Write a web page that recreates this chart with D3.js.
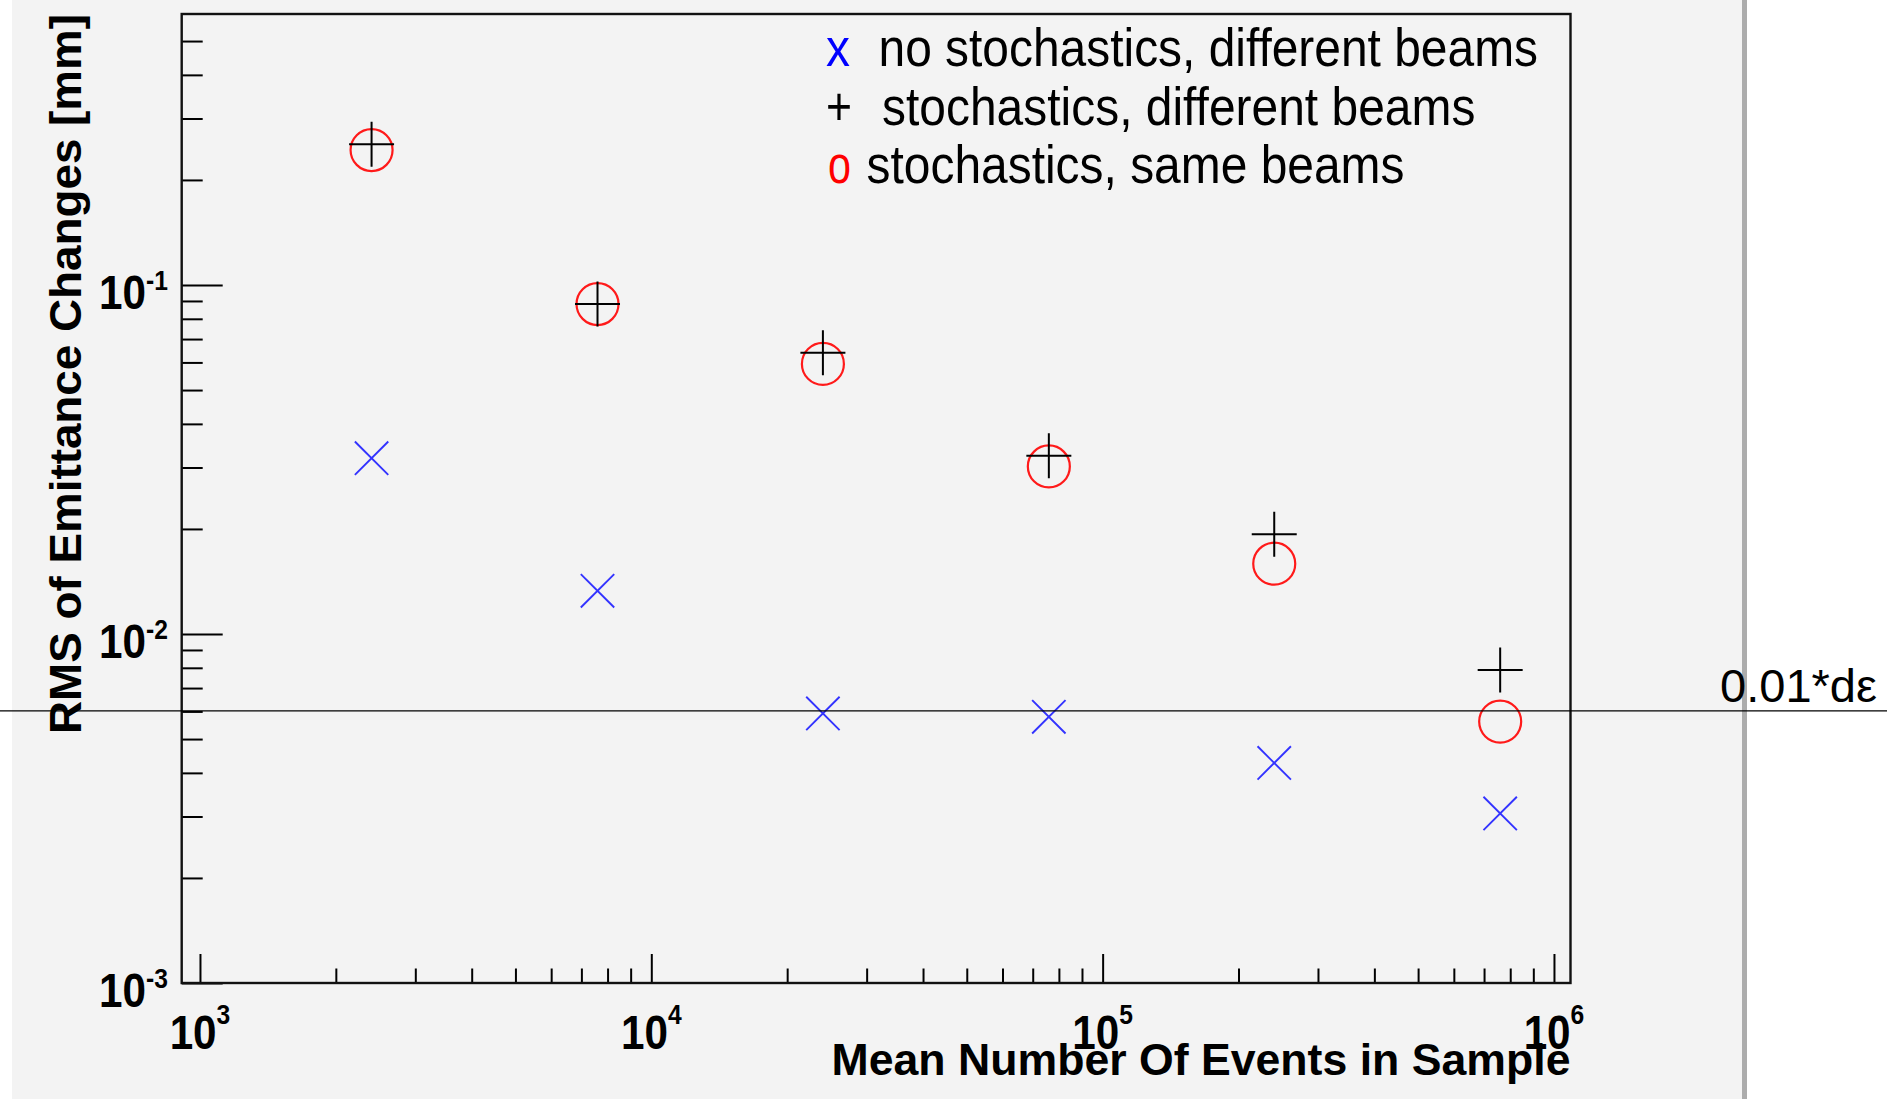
<!DOCTYPE html>
<html>
<head>
<meta charset="utf-8">
<script src="https://cdn.jsdelivr.net/npm/d3@7"></script>
<style>
  body { margin: 0; background: #fff; }
  svg { display: block; font-family: "Liberation Sans", Arial, Helvetica, sans-serif; }
</style>
</head>
<body>
<div id="chart"></div>
<script>
// data
const eventsInSample = [2400, 7600, 24000, 76000, 240000, 760000];
const noStochDiffBeams = [0.0319, 0.0133, 0.00592, 0.00579, 0.00427, 0.00306]; // blue x
const stochDiffBeams = [0.253, 0.0882, 0.064, 0.0324, 0.0193, 0.00788];      // black +
const stochSameBeams = [0.2436, 0.0882, 0.0594, 0.0302, 0.0159, 0.00561];    // red o
const refLevel = 0.00602;
const refLabel = "0.01*dε";
const xTickExps = [3, 4, 5, 6];
const yTickExps = [-3, -2, -1];
const legendSymbols = ["x", "+", "o"];
const legendLabels = ["no stochastics, different beams", "stochastics, different beams", "stochastics, same beams"];
const xTitle = "Mean Number Of Events in Sample";
const yTitle = "RMS of Emittance Changes [mm]";

const W = 1887, H = 1099;
const frame = { left: 181.7, right: 1570.5, top: 14, bottom: 983 };

const svg = d3.select("#chart").append("svg")
  .attr("width", W).attr("height", H);

// canvas
svg.append("rect").attr("x", 12).attr("y", 0).attr("width", 1730).attr("height", H).attr("fill", "#f3f3f3");
svg.append("rect").attr("x", 1742).attr("y", 0).attr("width", 5).attr("height", H).attr("fill", "#acacac");

const x = d3.scaleLog().domain([911, 1.088e6]).range([frame.left, frame.right]);
const y = d3.scaleLog().domain([1e-3, 0.5977]).range([frame.bottom, frame.top]);

// minor ticks 2..9 per decade inside domain
const minors = (scale, lo, hi) => {
  const out = [];
  for (let e = lo; e <= hi; e++) for (let m = 2; m <= 9; m++) {
    const v = m * Math.pow(10, e);
    const [d0, d1] = scale.domain();
    if (v > d0 && v < d1) out.push(v);
  }
  return out;
};

const xMajor = xTickExps.map(e => Math.pow(10, e));
const yMajor = yTickExps.map(e => Math.pow(10, e));

const gx = svg.append("g").attr("transform", `translate(0,${frame.bottom})`);
gx.append("g").call(d3.axisBottom(x).tickValues(xMajor).tickSize(-29).tickSizeOuter(0).tickFormat(""));
gx.append("g").call(d3.axisBottom(x).tickValues(minors(x, 2, 5)).tickSize(-14.5).tickSizeOuter(0).tickFormat(""));

const gy = svg.append("g").attr("transform", `translate(${frame.left},0)`);
gy.append("g").call(d3.axisLeft(y).tickValues(yMajor).tickSize(-41).tickSizeOuter(0).tickFormat(""));
gy.append("g").call(d3.axisLeft(y).tickValues(minors(y, -3, -1)).tickSize(-21).tickSizeOuter(0).tickFormat(""));

svg.selectAll(".domain").remove();
svg.selectAll(".tick line").attr("stroke", "#000").attr("stroke-width", 2);

// frame
svg.append("rect")
  .attr("x", frame.left).attr("y", frame.top)
  .attr("width", frame.right - frame.left).attr("height", frame.bottom - frame.top)
  .attr("fill", "none").attr("stroke", "#111").attr("stroke-width", 2.4);

// tick labels (10^n)
const xl = svg.append("g").selectAll("g").data(xTickExps).join("g")
  .attr("transform", d => `translate(${x(Math.pow(10, d))},1049) scale(0.88,1)`)
  .append("text").attr("text-anchor", "middle").attr("font-weight", "bold").attr("font-size", 48);
xl.append("tspan").text("10");
xl.append("tspan").attr("font-size", 28).attr("dy", -25).text(d => d);

const yl = svg.append("g").selectAll("g").data(yTickExps).join("g")
  .attr("transform", d => `translate(168,${y(Math.pow(10, d)) + 24}) scale(0.88,1)`)
  .append("text").attr("text-anchor", "end").attr("font-weight", "bold").attr("font-size", 48);
yl.append("tspan").text("10");
yl.append("tspan").attr("font-size", 28).attr("dy", -19).text(d => "-" + (-d));

// axis titles
svg.append("text")
  .attr("x", frame.right).attr("y", 1075).attr("text-anchor", "end")
  .attr("font-weight", "bold").attr("font-size", 45)
  .attr("textLength", 739).attr("lengthAdjust", "spacingAndGlyphs")
  .text(xTitle);

svg.append("text")
  .attr("transform", `translate(81,${frame.top}) rotate(-90)`)
  .attr("text-anchor", "end")
  .attr("font-weight", "bold").attr("font-size", 45)
  .attr("textLength", 720).attr("lengthAdjust", "spacingAndGlyphs")
  .text(yTitle);

// markers
const pts = (vals) => eventsInSample.map((e, i) => ({ x: x(e), y: y(vals[i]) }));

svg.append("g").selectAll("path").data(pts(noStochDiffBeams)).join("path")
  .attr("transform", d => `translate(${d.x},${d.y})`)
  .attr("d", "M-16.7,-16.7L16.7,16.7M-16.7,16.7L16.7,-16.7")
  .attr("stroke", "#3333ff").attr("stroke-width", 1.9).attr("fill", "none");

svg.append("g").selectAll("circle").data(pts(stochSameBeams)).join("circle")
  .attr("cx", d => d.x).attr("cy", d => d.y).attr("r", 21)
  .attr("stroke", "#ff1a1a").attr("stroke-width", 2.2).attr("fill", "none");

svg.append("g").selectAll("path").data(pts(stochDiffBeams)).join("path")
  .attr("transform", d => `translate(${d.x},${d.y})`)
  .attr("d", "M-22.5,0H22.5M0,-22.5V22.5")
  .attr("stroke", "#000").attr("stroke-width", 2).attr("fill", "none");

// reference line across the whole picture
svg.append("line")
  .attr("x1", 0).attr("x2", W).attr("y1", y(refLevel)).attr("y2", y(refLevel))
  .attr("stroke", "#000").attr("stroke-width", 1.4);

svg.append("text")
  .attr("x", 1720).attr("y", 702).attr("font-size", 47)
  .attr("textLength", 157).attr("lengthAdjust", "spacingAndGlyphs")
  .text(refLabel);

// legend
const legendColors = ["#0000ff", "#000", "#ff0000"];
const legendBase = [66, 125, 183];
const symX = [826, 826, 828], symW = [24, 26, 23];
const labX = [878.5, 882, 866.5], labW = [659.5, 593.4, 538];
const lg = svg.append("g").attr("font-size", 53);
legendSymbols.forEach((s, i) => {
  lg.append("text").attr("x", symX[i]).attr("y", legendBase[i])
    .attr("fill", legendColors[i])
    .attr("textLength", symW[i]).attr("lengthAdjust", "spacingAndGlyphs")
    .text(s);
  lg.append("text").attr("x", labX[i]).attr("y", legendBase[i])
    .attr("textLength", labW[i]).attr("lengthAdjust", "spacingAndGlyphs")
    .text(legendLabels[i]);
});
</script>
</body>
</html>
